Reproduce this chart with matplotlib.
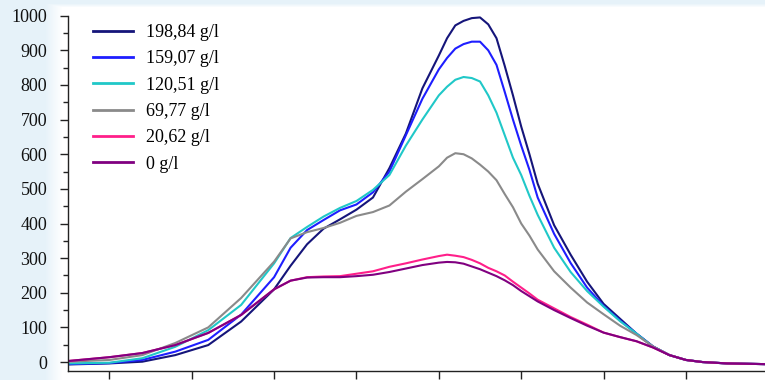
import numpy as np
import matplotlib
matplotlib.use("Agg")
import matplotlib.pyplot as plt
from matplotlib.ticker import MultipleLocator, FixedLocator, NullFormatter

x = [175, 200, 220, 240, 260, 280, 300, 310, 320, 330, 340, 350, 360, 370, 380,
     390, 400, 405, 410, 415, 420, 425, 430, 435, 440, 445, 450, 455, 460, 470,
     480, 490, 500, 510, 520, 530, 540, 550, 560, 575, 598]

c198 = [-7, -4, 1, 20, 49, 117, 210, 278, 340, 385, 412, 440, 475, 560, 660,
        790, 885, 935, 972, 985, 993, 995, 975, 935, 855, 770, 680, 600, 515, 395,
        310, 232, 168, 125, 82, 45, 20, 6, 0, -4, -6]
c159 = [-6, -3, 6, 30, 64, 137, 245, 330, 381, 410, 438, 455, 490, 550, 655,
        760, 845, 878, 905, 918, 925, 925, 900, 858, 780, 700, 625, 555, 475, 370,
        286, 215, 162, 120, 82, 45, 20, 6, 0, -4, -6]
c120 = [-4, -2, 11, 44, 92, 165, 285, 358, 390, 420, 445, 465, 497, 540, 625,
        700, 770, 795, 815, 823, 820, 810, 770, 720, 655, 590, 540, 480, 425, 330,
        260, 205, 160, 118, 82, 44, 20, 6, 0, -4, -6]
c69 = [1, 6, 20, 55, 100, 185, 290, 357, 375, 387, 402, 422, 433, 452, 492,
       528, 565, 590, 603, 600, 588, 570, 550, 525, 485, 447, 400, 365, 325, 262,
       215, 172, 138, 105, 78, 45, 20, 6, 0, -4, -6]
c20 = [3, 14, 26, 49, 84, 136, 210, 235, 245, 247, 248, 255, 262, 275, 285,
       296, 306, 310, 307, 303, 295, 285, 272, 262, 250, 232, 215, 198, 180, 155,
       130, 108, 85, 72, 60, 42, 20, 6, 0, -4, -6]
c0 = [3, 14, 26, 49, 84, 136, 210, 235, 244, 245, 245, 248, 252, 260, 270,
      280, 287, 289, 288, 284, 276, 268, 258, 248, 236, 222, 205, 190, 175, 150,
      127, 105, 85, 72, 60, 42, 20, 6, 0, -4, -6]

labels = ["198,84 g/l", "159,07 g/l", "120,51 g/l", "69,77 g/l", "20,62 g/l", "0 g/l"]
colors = ["#15157a", "#1e1eff", "#20c8c8", "#8a8a8a", "#ff1f8a", "#800080"]
series = [c198, c159, c120, c69, c20, c0]

yticks = [0, 100, 200, 300, 400, 500, 600, 700, 800, 900, 1000]
xmajor = [300, 400, 500]
xminor = [200, 250, 350, 450, 550]

W, H = 765, 380
fig = plt.figure(figsize=(W / 100, H / 100), dpi=100)
fig.patch.set_facecolor("white")

# light blue page tint at left and top edges
bg = fig.add_axes([0, 0, 1, 1], zorder=-5)
bg.axis("off")
xx = np.arange(W)
yy = np.arange(H)
ax_alpha = np.clip((62 - xx) / 17.0, 0, 1)
ay_alpha = np.clip((7 - yy) / 4.0, 0, 1)
alpha = np.maximum(ax_alpha[None, :], ay_alpha[:, None]) * 0.9
img = np.zeros((H, W, 4))
img[..., 0] = 0xe4 / 255
img[..., 1] = 0xf1 / 255
img[..., 2] = 0xfa / 255
img[..., 3] = alpha
bg.imshow(img, extent=[0, 1, 0, 1], aspect="auto", interpolation="bilinear")
bg.set_xlim(0, 1)
bg.set_ylim(0, 1)

left = 67.7 / W
bottom = (H - 370.7) / H
top = (H - 15.7) / H
ax = fig.add_axes([left, bottom, 1 - left, top - bottom])
ax.set_facecolor("white")

for s, c, lab in zip(series, colors, labels):
    ax.plot(x, s, color=c, lw=1.5, label=lab)

ax.set_xlim(174.7, 598)
ax.set_ylim(-25, 1000)

for sp in ["top", "right"]:
    ax.spines[sp].set_visible(False)
for sp in ["left", "bottom"]:
    ax.spines[sp].set_color("#222222")
    ax.spines[sp].set_linewidth(1.0)

ax.yaxis.set_major_locator(FixedLocator(yticks))
ax.yaxis.set_minor_locator(MultipleLocator(50))
ax.xaxis.set_major_locator(FixedLocator(xmajor))
ax.xaxis.set_minor_locator(FixedLocator(xminor))
ax.xaxis.set_major_formatter(NullFormatter())

ax.tick_params(axis="y", which="major", direction="out", length=5.8, width=1.0,
               pad=9, labelsize=13, colors="#222222")
ax.tick_params(axis="y", which="minor", direction="out", length=3.4, width=1.0,
               colors="#222222")
ax.tick_params(axis="x", which="major", direction="out", length=6, width=1.0,
               colors="#222222")
ax.tick_params(axis="x", which="minor", direction="out", length=6, width=1.0,
               colors="#222222")
for t in ax.get_yticklabels():
    t.set_fontfamily("Liberation Serif")
    t.set_color("#111111")

leg = ax.legend(loc="upper left", bbox_to_anchor=(0.036, 0.977), frameon=False,
                borderpad=0, borderaxespad=0, handlelength=2.2, handletextpad=0.75,
                labelspacing=0.52, prop={"family": "Liberation Serif", "size": 13})
for line in leg.get_lines():
    line.set_linewidth(2.0)

fig.savefig("out.png", dpi=100, facecolor=fig.get_facecolor())
